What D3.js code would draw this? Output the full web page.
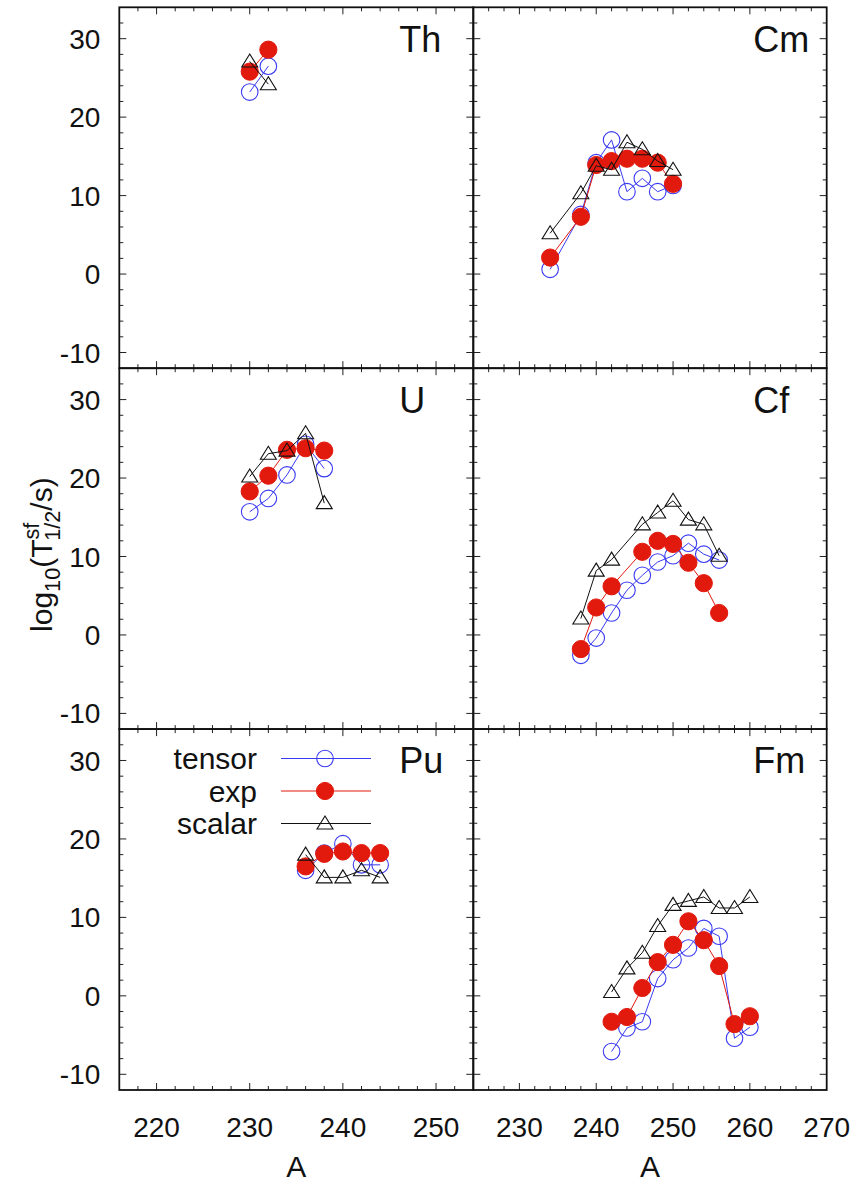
<!DOCTYPE html>
<html><head><meta charset="utf-8">
<script src="https://cdn.jsdelivr.net/npm/d3@7"></script>
<style>body{margin:0;background:#fff}svg{display:block}text{font-family:"Liberation Sans",Arial,sans-serif;fill:#111}</style>
</head><body>
<script>
// ---- data ----
const yTicks = [-10, 0, 10, 20, 30];
const xTicksLeft = [220, 230, 240, 250];
const xTicksRight = [230, 240, 250, 260, 270];
const seriesNames = ["tensor", "exp", "scalar"];

const thA = [230, 232];
const thTensor = [23.2, 26.5];
const thExp = [25.8, 28.6];
const thScalar = [27.1, 24.2];

const cmA = [234, 238, 240, 242, 244, 246, 248, 250];
const cmTensor = [0.6, 7.6, 14.2, 17.1, 10.5, 12.2, 10.5, 11.3];
const cmExp = [2.1, 7.3, 13.9, 14.4, 14.7, 14.7, 14.2, 11.5];
const cmScalar = [5.2, 10.3, 13.8, 13.3, 16.8, 15.9, 14.4, 13.3];

const uA = [230, 232, 234, 236, 238];
const uTensor = [15.7, 17.4, 20.4, 24.3, 21.2];
const uExp = [18.3, 20.3, 23.6, 23.8, 23.5];
const uScalar = [20.2, 23.1, 23.5, 25.7, 16.8];

const cfA = [238, 240, 242, 244, 246, 248, 250, 252, 254, 256];
const cfTensor = [-2.6, -0.4, 2.8, 5.7, 7.6, 9.3, 10.1, 11.7, 10.3, 9.55];
const cfA2 = [238, 240, 242, 246, 248, 250, 252, 254, 256];
const cfExp = [-1.8, 3.5, 6.2, 10.6, 12.0, 11.6, 9.2, 6.6, 2.8];
const cfScalar = [2.1, 8.2, 9.6, 14.1, 15.6, 17.1, 14.7, 14.1, 10.1];

const puA = [236, 238, 240, 242, 244];
const puTensor = [16.0, 18.2, 19.4, 16.7, 16.7];
const puExp = [16.5, 18.1, 18.4, 18.2, 18.2];
const puScalar = [18.0, 15.1, 15.1, 16.0, 15.1];

const fmA = [242, 244, 246, 248, 250, 252, 254, 256, 258, 260];
const fmTensor = [-7.1, -4.1, -3.3, 2.2, 4.6, 6.1, 8.6, 7.6, -5.4, -4.0];
const fmExp = [-3.3, -2.7, 1.0, 4.3, 6.5, 9.5, 7.1, 3.8, -3.6, -2.6];
const fmScalar = [0.5, 3.5, 5.5, 8.9, 11.6, 12.1, 12.6, 11.2, 11.2, 12.6];

const panels = [
  {name: "Th", col: 0, row: 0, tensor: [thA, thTensor], exp: [thA, thExp], scalar: [thA, thScalar]},
  {name: "Cm", col: 1, row: 0, tensor: [cmA, cmTensor], exp: [cmA, cmExp], scalar: [cmA, cmScalar]},
  {name: "U",  col: 0, row: 1, tensor: [uA, uTensor], exp: [uA, uExp], scalar: [uA, uScalar]},
  {name: "Cf", col: 1, row: 1, tensor: [cfA, cfTensor], exp: [cfA2, cfExp], scalar: [cfA2, cfScalar]},
  {name: "Pu", col: 0, row: 2, tensor: [puA, puTensor], exp: [puA, puExp], scalar: [puA, puScalar], legend: true},
  {name: "Fm", col: 1, row: 2, tensor: [fmA, fmTensor], exp: [fmA, fmExp], scalar: [fmA, fmScalar]}
];

// ---- layout ----
const W = 860, H = 1192;
const colX = [119.3, 473.3, 826.7];
const topY = 7.3, bottomY = 1090;
const rowH = (bottomY - topY) / 3;
const xDomains = [[216, 254], [224, 270]];
const yDomain = [-12, 34];
const colors = {tensor: "#3a3af2", exp: "#e2190d", scalar: "#111111"};
const FS = 30, TFS = 28;

const svg = d3.select("body").append("svg").attr("width", W).attr("height", H);

function triPath(s) { return `M0,${-7.5*s}L${8*s},${5.5*s}L${-8*s},${5.5*s}Z`; }

function drawMarker(g, type, x, y) {
  if (type === "tensor") {
    g.append("circle").attr("cx", x).attr("cy", y).attr("r", 8.3)
      .attr("fill", "none").attr("stroke", colors.tensor).attr("stroke-width", 1.1);
  } else if (type === "exp") {
    g.append("circle").attr("cx", x).attr("cy", y).attr("r", 8.6)
      .attr("fill", colors.exp).attr("stroke", colors.exp).attr("stroke-width", 1);
  } else {
    g.append("path").attr("d", triPath(1)).attr("transform", `translate(${x},${y})`)
      .attr("fill", "none").attr("stroke", colors.scalar).attr("stroke-width", 1.1);
  }
}

panels.forEach(p => {
  const x0 = colX[p.col], x1 = colX[p.col + 1];
  const y0 = topY + p.row * rowH, y1 = y0 + rowH;
  const xs = d3.scaleLinear().domain(xDomains[p.col]).range([x0, x1]);
  const ys = d3.scaleLinear().domain(yDomain).range([y1, y0]);
  const g = svg.append("g");

  // ticks (mirrored, inward)
  const xMinor = d3.range(Math.ceil(xDomains[p.col][0]/2)*2, xDomains[p.col][1]+0.001, 2);
  const yMinor = d3.range(-12, 34.001, 2);
  const tickG = g.append("g").attr("stroke", "#222").attr("stroke-width", 1);
  xMinor.forEach(v => {
    const major = v % 10 === 0;
    const L = major ? 7 : 4;
    const x = xs(v);
    if (x <= x0 + 0.5 || x >= x1 - 0.5) return;
    tickG.append("line").attr("x1", x).attr("x2", x).attr("y1", y1).attr("y2", y1 - L);
    tickG.append("line").attr("x1", x).attr("x2", x).attr("y1", y0).attr("y2", y0 + L);
  });
  yMinor.forEach(v => {
    const major = v % 10 === 0;
    const L = major ? 7 : 4;
    const y = ys(v);
    if (y <= y0 + 0.5 || y >= y1 - 0.5) return;
    tickG.append("line").attr("x1", x0).attr("x2", x0 + L).attr("y1", y).attr("y2", y);
    tickG.append("line").attr("x1", x1).attr("x2", x1 - L).attr("y1", y).attr("y2", y);
  });

  // frame
  g.append("rect").attr("x", x0).attr("y", y0).attr("width", x1 - x0).attr("height", y1 - y0)
    .attr("fill", "none").attr("stroke", "#111").attr("stroke-width", 1.8);

  // y tick labels on left column
  if (p.col === 0) {
    yTicks.forEach(v => {
      g.append("text").attr("x", x0 - 19).attr("y", ys(v)).attr("dy", "0.36em")
        .attr("text-anchor", "end").attr("font-size", TFS).text(v);
    });
  }
  // x tick labels on bottom row
  if (p.row === 2) {
    const ticks = p.col === 0 ? xTicksLeft : xTicksRight;
    ticks.forEach(v => {
      g.append("text").attr("x", xs(v)).attr("y", y1 + 47).attr("text-anchor", "middle")
        .attr("font-size", TFS).text(v);
    });
    g.append("text").attr("x", (x0 + x1) / 2).attr("y", y1 + 87).attr("text-anchor", "middle")
      .attr("font-size", FS).text("A");
  }

  // panel label
  g.append("text").attr("x", x0 + 280).attr("y", ys(30) + 13).attr("font-size", 36).text(p.name);

  // series: lines then markers in plot order
  seriesNames.forEach(s => {
    const [ax, vals] = p[s];
    const pts = ax.map((a, i) => [xs(a), ys(vals[i])]);
    g.append("path").attr("d", d3.line()(pts)).attr("fill", "none")
      .attr("stroke", colors[s]).attr("stroke-width", 1);
    pts.forEach(pt => drawMarker(g, s, pt[0], pt[1]));
  });

  // legend
  if (p.legend) {
    const lx1 = 281, lx2 = 371, mx = 325;
    const rows = [758.5, 791, 823.5];
    seriesNames.forEach((s, i) => {
      g.append("text").attr("x", 257).attr("y", rows[i]).attr("dy", "0.36em")
        .attr("text-anchor", "end").attr("font-size", FS).text(s);
      g.append("line").attr("x1", lx1).attr("x2", lx2).attr("y1", rows[i]).attr("y2", rows[i])
        .attr("stroke", colors[s]).attr("stroke-width", 1);
      drawMarker(g, s, mx, rows[i]);
    });
  }
});

// y axis title
const yt = svg.append("text").attr("transform", `translate(52,${topY + rowH * 1.5 + 6}) rotate(-90)`)
  .attr("text-anchor", "middle").attr("font-size", FS);
yt.append("tspan").text("log");
yt.append("tspan").attr("font-size", FS * 0.72).attr("dy", 8).text("10");
yt.append("tspan").attr("dy", -8).text("(T");
yt.append("tspan").attr("font-size", FS * 0.72).attr("dy", -13).text("sf");
yt.append("tspan").attr("font-size", FS * 0.72).attr("dx", -18).attr("dy", 21).text("1/2");
yt.append("tspan").attr("dy", -8).text("/s)");
</script>
</body></html>
